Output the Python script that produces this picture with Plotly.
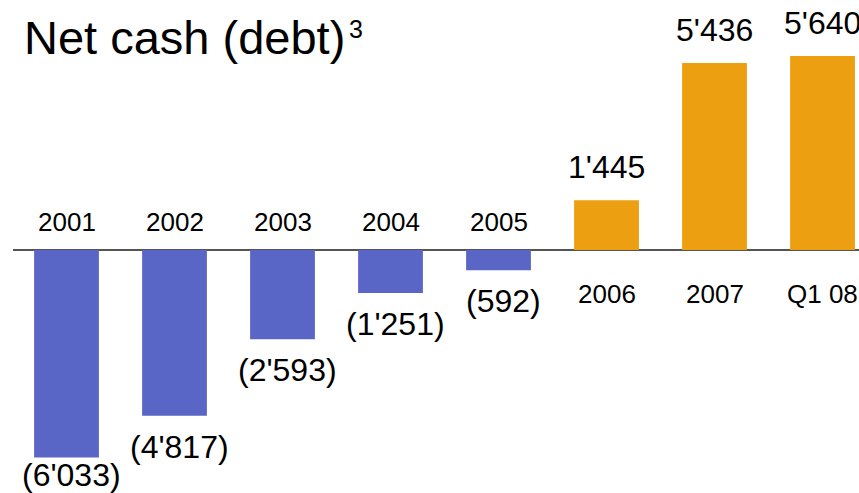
import plotly.graph_objects as go

categories = ["2001", "2002", "2003", "2004", "2005", "2006", "2007", "Q1 08"]
net_cash = [-6033, -4817, -2593, -1251, -592, 1445, 5436, 5640]

blue = "#5a66c6"
orange = "#ec9f10"
font_family = "Liberation Sans, Arial, sans-serif"

W, H = 859, 493
left = 12.5
px_per_cat = 108
px_per_unit = 0.0344
zero_px = 250


def fmt(v):
    s = f"{abs(v):,}".replace(",", "'")
    return f"({s})" if v < 0 else s


colors = [blue if v < 0 else orange for v in net_cash]

fig = go.Figure(go.Bar(
    x=categories, y=net_cash, marker=dict(color=colors, line=dict(width=0)),
    width=0.6, hoverinfo="skip",
))

annotations = []
for i, (c, v) in enumerate(zip(categories, net_cash)):
    neg = v < 0
    # year label on the opposite side of the axis
    annotations.append(dict(
        x=i, y=0, xref="x", yref="y", text=c, showarrow=False,
        yanchor="middle", yshift=28 if neg else -44,
        font=dict(size=26, color="black", family=font_family),
    ))
    # value label at the bar end
    if neg:
        shift = -17 if i == 0 else -31
    else:
        shift = 33
    annotations.append(dict(
        x=i, y=v, xref="x", yref="y", text=fmt(v), showarrow=False,
        yanchor="middle", yshift=shift, xshift=5 if neg else 0,
        font=dict(size=32, color="black", family=font_family),
    ))

# title
annotations.append(dict(
    x=22 / W, y=1 - 56 / H, xref="paper", yref="paper", xanchor="left", yanchor="bottom",
    text="Net cash (debt)", showarrow=False, yshift=-10,
    font=dict(size=47, color="black", family=font_family),
))
annotations.append(dict(
    x=347 / W, y=1 - 42 / H, xref="paper", yref="paper", xanchor="left", yanchor="bottom",
    text="3", showarrow=False, yshift=-3,
    font=dict(size=25, color="black", family=font_family),
))

fig.update_layout(
    width=W, height=H,
    margin=dict(l=0, r=0, t=0, b=0),
    paper_bgcolor="white", plot_bgcolor="white",
    showlegend=False,
    annotations=annotations,
    xaxis=dict(
        type="category",
        domain=[left / W, 1],
        range=[-0.5, (W - left) / px_per_cat - 0.5],
        showticklabels=False, showgrid=False, zeroline=False, showline=False,
        fixedrange=True,
    ),
    yaxis=dict(
        range=[-(H - zero_px) / px_per_unit, zero_px / px_per_unit],
        showticklabels=False, showgrid=False,
        zeroline=True, zerolinecolor="#555555", zerolinewidth=2,
        fixedrange=True,
    ),
)

fig.write_html("out.html", config={"displayModeBar": False},
               post_script="document.body.style.margin='0';")
